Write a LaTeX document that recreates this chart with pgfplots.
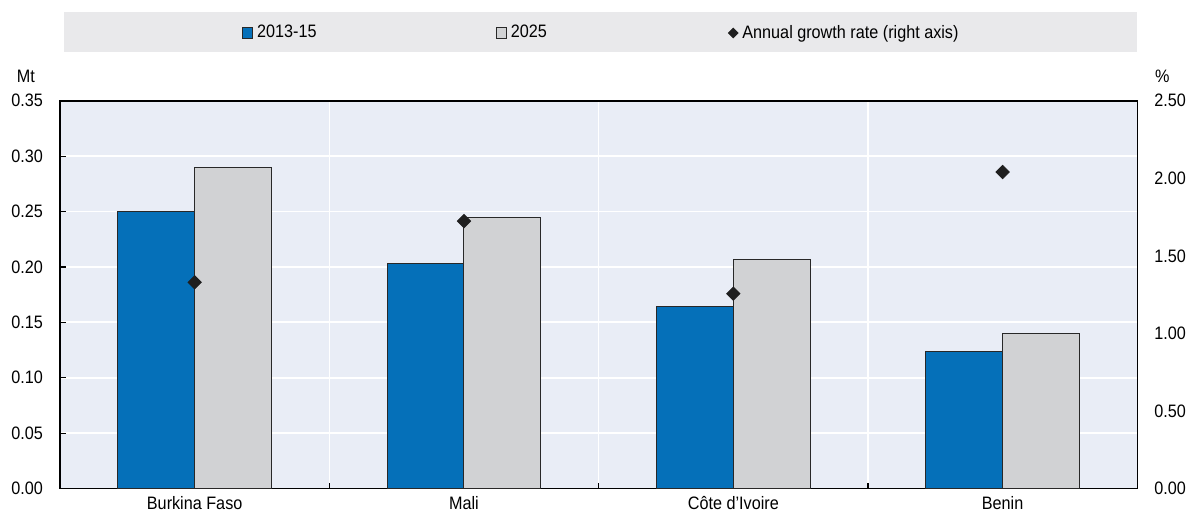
\documentclass[border=0pt]{standalone}
\usepackage{pgfplots}
\pgfplotsset{compat=1.18}
\usepackage{fontspec}
\setmainfont{Liberation Sans}[FakeStretch=0.9]
\definecolor{oblue}{RGB}{5,112,185}
\definecolor{ogray}{RGB}{209,210,212}
\definecolor{plotbg}{RGB}{233,237,246}
\definecolor{legbg}{RGB}{233,233,235}
\definecolor{edge}{RGB}{40,40,40}
\begin{document}
\begin{tikzpicture}[font=\fontsize{9}{10.8}\selectfont]
\useasboundingbox (-30pt,-12.75pt) rectangle (564.5pt,244.25pt);
\fill[legbg] (1.75pt,218.4pt) rectangle (538.65pt,238.25pt);
\begin{axis}[
  at={(0pt,0pt)}, anchor=south west, scale only axis,
  width=538.65pt, height=193.9pt,
  xmin=-0.5, xmax=3.5, ymin=0, ymax=0.35,
  axis background/.style={fill=plotbg},
  axis line style={black, line width=0.8pt},
  ybar=0pt, bar width=38.35pt,
  xtick={0,1,2,3},
  xticklabels={Burkina Faso, Mali, Côte d’Ivoire, Benin},
  minor xtick={0.5,1.5,2.5},
  major x tick style={draw=none},
  minor tick length=2.5pt,
  minor x tick style={black, line width=0.6pt},
  x tick label style={yshift=-0.5pt},
  ytick={0,0.05,0.1,0.15,0.2,0.25,0.3,0.35},
  ytick pos=left, xtick pos=bottom,
  tick align=inside,
  major tick length=3pt,
  major y tick style={black, line width=0.6pt},
  yticklabel style={/pgf/number format/.cd, fixed, fixed zerofill, precision=2, /tikz/.cd, xshift=-5pt},
  /pgf/number format/assume math mode=true,
  ymajorgrids, xminorgrids,
  major grid style={white, line width=0.9pt},
  minor grid style={white, line width=0.7pt},
  legend style={at={(0.1683,1.1745)}, anchor=west, draw=none, fill=none,
    inner sep=0pt, legend columns=3, font=\fontsize{9}{10.8}\selectfont},
  legend cell align=left,
]
\addplot[fill=oblue, draw=edge, line width=0.5pt,
  legend image code/.code={\draw[fill=oblue, draw=edge, line width=0.5pt] (0pt,-2.6pt) rectangle (5.2pt,2.6pt);}]
  coordinates {(0,0.250) (1,0.203) (2,0.164) (3,0.124)};
\addlegendentry{2013-15\hspace*{87.5pt}}
\addplot[fill=ogray, draw=edge, line width=0.5pt,
  legend image code/.code={\draw[fill=ogray, draw=edge, line width=0.5pt] (0pt,-2.6pt) rectangle (5.2pt,2.6pt);}]
  coordinates {(0,0.2895) (1,0.245) (2,0.2065) (3,0.140)};
\addlegendentry{2025\hspace*{88.5pt}}
\addlegendimage{legend image code/.code={\fill[black!88, rotate around={45:(2.6pt,0pt)}] (0.9pt,-1.7pt) rectangle (4.3pt,1.7pt);}}
\addlegendentry{Annual growth rate (right axis)}
\end{axis}
\begin{axis}[
  at={(0pt,0pt)}, anchor=south west, scale only axis,
  width=538.65pt, height=193.9pt,
  xmin=-0.5, xmax=3.5, ymin=0, ymax=2.5,
  hide x axis,
  axis y line*=right,
  y axis line style={black, line width=0.8pt},
  ytick={0,0.5,1,1.5,2,2.5},
  major tick length=0pt,
  yticklabel style={/pgf/number format/.cd, fixed, fixed zerofill, precision=2, /tikz/.cd, xshift=5pt},
  /pgf/number format/assume math mode=true,
]
\addplot[only marks, mark=square*, mark size=2.35pt,
  mark options={rotate=45, fill=black!88, draw=black!88}]
  coordinates {(0,1.329) (1,1.724) (2,1.256) (3,2.040)};
\end{axis}
\node[anchor=east] at (-9pt,205.9pt) {Mt};
\node[anchor=west] at (544pt,205.9pt) {\%};
\end{tikzpicture}
\end{document}
